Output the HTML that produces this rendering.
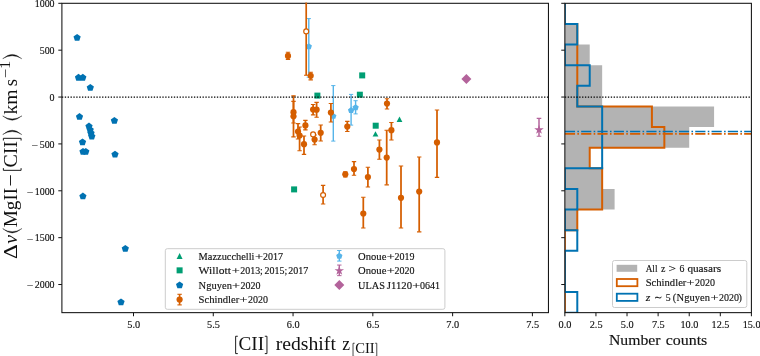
<!DOCTYPE html>
<html><head><meta charset="utf-8"><title>Velocity shifts</title>
<style>
html,body{margin:0;padding:0;background:#fff;}
body{width:760px;height:356px;overflow:hidden;font-family:"Liberation Serif",serif;}
svg{display:block;will-change:transform;}
svg text{font-family:"Liberation Serif",serif;fill:#111;stroke:#111;stroke-width:0.14px;}
svg .big text{stroke:none;}
</style></head>
<body>
<svg width="760" height="356" viewBox="0 0 760 356">
<rect x="0" y="0" width="760" height="356" fill="#ffffff"/>
<defs>
<clipPath id="c1"><rect x="61.90" y="2.7" width="486.55" height="309.95"/></clipPath>
<clipPath id="c2"><rect x="564.85" y="3.30" width="186.55" height="309.35"/></clipPath>
</defs>
<g clip-path="url(#c1)">
<polygon points="77.10,33.90 80.71,36.53 79.33,40.77 74.87,40.77 73.49,36.53" fill="#0072B2"/>
<polygon points="78.50,73.80 82.11,76.43 80.73,80.67 76.27,80.67 74.89,76.43" fill="#0072B2"/>
<polygon points="82.80,73.80 86.41,76.43 85.03,80.67 80.57,80.67 79.19,76.43" fill="#0072B2"/>
<polygon points="90.30,83.90 93.91,86.53 92.53,90.77 88.07,90.77 86.69,86.53" fill="#0072B2"/>
<polygon points="79.50,113.00 83.11,115.63 81.73,119.87 77.27,119.87 75.89,115.63" fill="#0072B2"/>
<polygon points="114.40,116.90 118.01,119.53 116.63,123.77 112.17,123.77 110.79,119.53" fill="#0072B2"/>
<polygon points="89.00,122.50 92.61,125.13 91.23,129.37 86.77,129.37 85.39,125.13" fill="#0072B2"/>
<polygon points="90.20,126.20 93.81,128.83 92.43,133.07 87.97,133.07 86.59,128.83" fill="#0072B2"/>
<polygon points="91.00,129.30 94.61,131.93 93.23,136.17 88.77,136.17 87.39,131.93" fill="#0072B2"/>
<polygon points="91.80,132.60 95.41,135.23 94.03,139.47 89.57,139.47 88.19,135.23" fill="#0072B2"/>
<polygon points="82.50,138.40 86.11,141.03 84.73,145.27 80.27,145.27 78.89,141.03" fill="#0072B2"/>
<polygon points="83.00,147.90 86.61,150.53 85.23,154.77 80.77,154.77 79.39,150.53" fill="#0072B2"/>
<polygon points="85.80,147.90 89.41,150.53 88.03,154.77 83.57,154.77 82.19,150.53" fill="#0072B2"/>
<polygon points="115.00,150.70 118.61,153.33 117.23,157.57 112.77,157.57 111.39,153.33" fill="#0072B2"/>
<polygon points="82.90,192.50 86.51,195.13 85.13,199.37 80.67,199.37 79.29,195.13" fill="#0072B2"/>
<polygon points="125.30,244.90 128.91,247.53 127.53,251.77 123.07,251.77 121.69,247.53" fill="#0072B2"/>
<polygon points="121.00,298.40 124.61,301.03 123.23,305.27 118.77,305.27 117.39,301.03" fill="#0072B2"/>
<rect x="359.20" y="72.40" width="6.00" height="6.00" fill="#009E73"/>
<rect x="356.85" y="91.70" width="6.00" height="6.00" fill="#009E73"/>
<rect x="314.40" y="92.60" width="6.00" height="6.00" fill="#009E73"/>
<rect x="372.70" y="122.70" width="6.00" height="6.00" fill="#009E73"/>
<rect x="291.10" y="186.40" width="6.00" height="6.00" fill="#009E73"/>
<polygon points="375.50,131.20 372.60,136.60 378.40,136.60" fill="#009E73"/>
<polygon points="399.50,116.60 396.60,122.00 402.40,122.00" fill="#009E73"/>
<line x1="308.80" y1="18.60" x2="308.80" y2="77.20" stroke="#56B4E9" stroke-width="1.40"/><line x1="306.70" y1="18.60" x2="310.90" y2="18.60" stroke="#56B4E9" stroke-width="1.00"/><line x1="306.70" y1="77.20" x2="310.90" y2="77.20" stroke="#56B4E9" stroke-width="1.00"/>
<polygon points="308.80,43.20 311.94,45.48 310.74,49.17 306.86,49.17 305.66,45.48" fill="#56B4E9"/>
<line x1="333.30" y1="85.60" x2="333.30" y2="141.10" stroke="#56B4E9" stroke-width="1.40"/><line x1="331.20" y1="85.60" x2="335.40" y2="85.60" stroke="#56B4E9" stroke-width="1.00"/><line x1="331.20" y1="141.10" x2="335.40" y2="141.10" stroke="#56B4E9" stroke-width="1.00"/>
<polygon points="333.30,112.90 336.44,115.18 335.24,118.87 331.36,118.87 330.16,115.18" fill="#56B4E9"/>
<line x1="351.10" y1="94.40" x2="351.10" y2="125.10" stroke="#56B4E9" stroke-width="1.40"/><line x1="349.00" y1="94.40" x2="353.20" y2="94.40" stroke="#56B4E9" stroke-width="1.00"/><line x1="349.00" y1="125.10" x2="353.20" y2="125.10" stroke="#56B4E9" stroke-width="1.00"/>
<polygon points="351.10,107.10 354.24,109.38 353.04,113.07 349.16,113.07 347.96,109.38" fill="#56B4E9"/>
<line x1="355.60" y1="100.70" x2="355.60" y2="113.90" stroke="#56B4E9" stroke-width="1.40"/><line x1="353.50" y1="100.70" x2="357.70" y2="100.70" stroke="#56B4E9" stroke-width="1.00"/><line x1="353.50" y1="113.90" x2="357.70" y2="113.90" stroke="#56B4E9" stroke-width="1.00"/>
<polygon points="355.60,104.20 358.74,106.48 357.54,110.17 353.66,110.17 352.46,106.48" fill="#56B4E9"/>
<line x1="288.00" y1="52.20" x2="288.00" y2="59.50" stroke="#D55E00" stroke-width="1.75"/><line x1="285.80" y1="52.20" x2="290.20" y2="52.20" stroke="#D55E00" stroke-width="1.15"/><line x1="285.80" y1="59.50" x2="290.20" y2="59.50" stroke="#D55E00" stroke-width="1.15"/>
<line x1="310.70" y1="72.20" x2="310.70" y2="79.80" stroke="#D55E00" stroke-width="1.75"/><line x1="308.50" y1="72.20" x2="312.90" y2="72.20" stroke="#D55E00" stroke-width="1.15"/><line x1="308.50" y1="79.80" x2="312.90" y2="79.80" stroke="#D55E00" stroke-width="1.15"/>
<line x1="293.50" y1="101.40" x2="293.50" y2="123.00" stroke="#D55E00" stroke-width="1.75"/><line x1="291.30" y1="101.40" x2="295.70" y2="101.40" stroke="#D55E00" stroke-width="1.15"/><line x1="291.30" y1="123.00" x2="295.70" y2="123.00" stroke="#D55E00" stroke-width="1.15"/>
<line x1="293.50" y1="95.80" x2="293.50" y2="136.90" stroke="#D55E00" stroke-width="1.75"/><line x1="291.30" y1="95.80" x2="295.70" y2="95.80" stroke="#D55E00" stroke-width="1.15"/><line x1="291.30" y1="136.90" x2="295.70" y2="136.90" stroke="#D55E00" stroke-width="1.15"/>
<line x1="298.00" y1="123.60" x2="298.00" y2="139.00" stroke="#D55E00" stroke-width="1.75"/><line x1="295.80" y1="123.60" x2="300.20" y2="123.60" stroke="#D55E00" stroke-width="1.15"/><line x1="295.80" y1="139.00" x2="300.20" y2="139.00" stroke="#D55E00" stroke-width="1.15"/>
<line x1="299.60" y1="127.00" x2="299.60" y2="150.70" stroke="#D55E00" stroke-width="1.75"/><line x1="297.40" y1="127.00" x2="301.80" y2="127.00" stroke="#D55E00" stroke-width="1.15"/><line x1="297.40" y1="150.70" x2="301.80" y2="150.70" stroke="#D55E00" stroke-width="1.15"/>
<line x1="305.40" y1="120.40" x2="305.40" y2="129.90" stroke="#D55E00" stroke-width="1.75"/><line x1="303.20" y1="120.40" x2="307.60" y2="120.40" stroke="#D55E00" stroke-width="1.15"/><line x1="303.20" y1="129.90" x2="307.60" y2="129.90" stroke="#D55E00" stroke-width="1.15"/>
<line x1="304.00" y1="136.00" x2="304.00" y2="154.40" stroke="#D55E00" stroke-width="1.75"/><line x1="301.80" y1="136.00" x2="306.20" y2="136.00" stroke="#D55E00" stroke-width="1.15"/><line x1="301.80" y1="154.40" x2="306.20" y2="154.40" stroke="#D55E00" stroke-width="1.15"/>
<line x1="313.10" y1="104.50" x2="313.10" y2="114.90" stroke="#D55E00" stroke-width="1.75"/><line x1="310.90" y1="104.50" x2="315.30" y2="104.50" stroke="#D55E00" stroke-width="1.15"/><line x1="310.90" y1="114.90" x2="315.30" y2="114.90" stroke="#D55E00" stroke-width="1.15"/>
<line x1="316.60" y1="102.40" x2="316.60" y2="117.20" stroke="#D55E00" stroke-width="1.75"/><line x1="314.40" y1="102.40" x2="318.80" y2="102.40" stroke="#D55E00" stroke-width="1.15"/><line x1="314.40" y1="117.20" x2="318.80" y2="117.20" stroke="#D55E00" stroke-width="1.15"/>
<line x1="314.60" y1="135.00" x2="314.60" y2="144.70" stroke="#D55E00" stroke-width="1.75"/><line x1="312.40" y1="135.00" x2="316.80" y2="135.00" stroke="#D55E00" stroke-width="1.15"/><line x1="312.40" y1="144.70" x2="316.80" y2="144.70" stroke="#D55E00" stroke-width="1.15"/>
<line x1="320.70" y1="125.00" x2="320.70" y2="141.00" stroke="#D55E00" stroke-width="1.75"/><line x1="318.50" y1="125.00" x2="322.90" y2="125.00" stroke="#D55E00" stroke-width="1.15"/><line x1="318.50" y1="141.00" x2="322.90" y2="141.00" stroke="#D55E00" stroke-width="1.15"/>
<line x1="330.90" y1="103.50" x2="330.90" y2="122.00" stroke="#D55E00" stroke-width="1.75"/><line x1="328.70" y1="103.50" x2="333.10" y2="103.50" stroke="#D55E00" stroke-width="1.15"/><line x1="328.70" y1="122.00" x2="333.10" y2="122.00" stroke="#D55E00" stroke-width="1.15"/>
<line x1="347.30" y1="121.40" x2="347.30" y2="131.50" stroke="#D55E00" stroke-width="1.75"/><line x1="345.10" y1="121.40" x2="349.50" y2="121.40" stroke="#D55E00" stroke-width="1.15"/><line x1="345.10" y1="131.50" x2="349.50" y2="131.50" stroke="#D55E00" stroke-width="1.15"/>
<line x1="387.00" y1="98.70" x2="387.00" y2="109.00" stroke="#D55E00" stroke-width="1.75"/><line x1="384.80" y1="98.70" x2="389.20" y2="98.70" stroke="#D55E00" stroke-width="1.15"/><line x1="384.80" y1="109.00" x2="389.20" y2="109.00" stroke="#D55E00" stroke-width="1.15"/>
<line x1="391.40" y1="122.50" x2="391.40" y2="140.00" stroke="#D55E00" stroke-width="1.75"/><line x1="389.20" y1="122.50" x2="393.60" y2="122.50" stroke="#D55E00" stroke-width="1.15"/><line x1="389.20" y1="140.00" x2="393.60" y2="140.00" stroke="#D55E00" stroke-width="1.15"/>
<line x1="379.40" y1="140.00" x2="379.40" y2="159.20" stroke="#D55E00" stroke-width="1.75"/><line x1="377.20" y1="140.00" x2="381.60" y2="140.00" stroke="#D55E00" stroke-width="1.15"/><line x1="377.20" y1="159.20" x2="381.60" y2="159.20" stroke="#D55E00" stroke-width="1.15"/>
<line x1="386.70" y1="130.20" x2="386.70" y2="184.80" stroke="#D55E00" stroke-width="1.75"/><line x1="384.50" y1="130.20" x2="388.90" y2="130.20" stroke="#D55E00" stroke-width="1.15"/><line x1="384.50" y1="184.80" x2="388.90" y2="184.80" stroke="#D55E00" stroke-width="1.15"/>
<line x1="437.00" y1="110.00" x2="437.00" y2="177.40" stroke="#D55E00" stroke-width="1.75"/><line x1="434.80" y1="110.00" x2="439.20" y2="110.00" stroke="#D55E00" stroke-width="1.15"/><line x1="434.80" y1="177.40" x2="439.20" y2="177.40" stroke="#D55E00" stroke-width="1.15"/>
<line x1="345.30" y1="171.70" x2="345.30" y2="176.90" stroke="#D55E00" stroke-width="1.75"/><line x1="343.10" y1="171.70" x2="347.50" y2="171.70" stroke="#D55E00" stroke-width="1.15"/><line x1="343.10" y1="176.90" x2="347.50" y2="176.90" stroke="#D55E00" stroke-width="1.15"/>
<line x1="354.00" y1="161.60" x2="354.00" y2="175.20" stroke="#D55E00" stroke-width="1.75"/><line x1="351.80" y1="161.60" x2="356.20" y2="161.60" stroke="#D55E00" stroke-width="1.15"/><line x1="351.80" y1="175.20" x2="356.20" y2="175.20" stroke="#D55E00" stroke-width="1.15"/>
<line x1="367.90" y1="167.20" x2="367.90" y2="187.00" stroke="#D55E00" stroke-width="1.75"/><line x1="365.70" y1="167.20" x2="370.10" y2="167.20" stroke="#D55E00" stroke-width="1.15"/><line x1="365.70" y1="187.00" x2="370.10" y2="187.00" stroke="#D55E00" stroke-width="1.15"/>
<line x1="363.30" y1="197.20" x2="363.30" y2="228.00" stroke="#D55E00" stroke-width="1.75"/><line x1="361.10" y1="197.20" x2="365.50" y2="197.20" stroke="#D55E00" stroke-width="1.15"/><line x1="361.10" y1="228.00" x2="365.50" y2="228.00" stroke="#D55E00" stroke-width="1.15"/>
<line x1="401.00" y1="166.00" x2="401.00" y2="228.00" stroke="#D55E00" stroke-width="1.75"/><line x1="398.80" y1="166.00" x2="403.20" y2="166.00" stroke="#D55E00" stroke-width="1.15"/><line x1="398.80" y1="228.00" x2="403.20" y2="228.00" stroke="#D55E00" stroke-width="1.15"/>
<line x1="419.20" y1="157.00" x2="419.20" y2="231.80" stroke="#D55E00" stroke-width="1.75"/><line x1="417.00" y1="157.00" x2="421.40" y2="157.00" stroke="#D55E00" stroke-width="1.15"/><line x1="417.00" y1="231.80" x2="421.40" y2="231.80" stroke="#D55E00" stroke-width="1.15"/>
<circle cx="288.00" cy="55.90" r="3.10" fill="#D55E00"/>
<circle cx="310.70" cy="75.80" r="3.10" fill="#D55E00"/>
<circle cx="293.50" cy="112.20" r="3.10" fill="#D55E00"/>
<circle cx="293.50" cy="116.30" r="3.10" fill="#D55E00"/>
<circle cx="298.00" cy="131.50" r="3.10" fill="#D55E00"/>
<circle cx="299.60" cy="135.50" r="3.10" fill="#D55E00"/>
<circle cx="305.40" cy="125.40" r="3.10" fill="#D55E00"/>
<circle cx="304.00" cy="144.20" r="3.10" fill="#D55E00"/>
<circle cx="313.10" cy="109.60" r="3.10" fill="#D55E00"/>
<circle cx="316.60" cy="109.70" r="3.10" fill="#D55E00"/>
<circle cx="314.60" cy="139.60" r="3.10" fill="#D55E00"/>
<circle cx="320.70" cy="132.80" r="3.10" fill="#D55E00"/>
<circle cx="330.90" cy="112.50" r="3.10" fill="#D55E00"/>
<circle cx="347.30" cy="126.60" r="3.10" fill="#D55E00"/>
<circle cx="387.00" cy="103.60" r="3.10" fill="#D55E00"/>
<circle cx="391.40" cy="130.20" r="3.10" fill="#D55E00"/>
<circle cx="379.40" cy="149.60" r="3.10" fill="#D55E00"/>
<circle cx="386.70" cy="157.60" r="3.10" fill="#D55E00"/>
<circle cx="437.00" cy="142.40" r="3.10" fill="#D55E00"/>
<circle cx="345.30" cy="174.30" r="3.10" fill="#D55E00"/>
<circle cx="354.00" cy="169.00" r="3.10" fill="#D55E00"/>
<circle cx="367.90" cy="177.10" r="3.10" fill="#D55E00"/>
<circle cx="363.30" cy="213.50" r="3.10" fill="#D55E00"/>
<circle cx="401.00" cy="197.80" r="3.10" fill="#D55E00"/>
<circle cx="419.20" cy="191.60" r="3.10" fill="#D55E00"/>
<line x1="306.20" y1="-2.00" x2="306.20" y2="75.30" stroke="#D55E00" stroke-width="1.70"/><line x1="304.00" y1="75.30" x2="308.40" y2="75.30" stroke="#D55E00" stroke-width="1.10"/>
<circle cx="306.20" cy="31.40" r="2.45" fill="#fff" stroke="#D55E00" stroke-width="1.20"/>
<circle cx="313.10" cy="134.40" r="2.45" fill="#fff" stroke="#D55E00" stroke-width="1.20"/>
<line x1="323.10" y1="185.40" x2="323.10" y2="204.00" stroke="#D55E00" stroke-width="1.70"/><line x1="320.90" y1="185.40" x2="325.30" y2="185.40" stroke="#D55E00" stroke-width="1.10"/><line x1="320.90" y1="204.00" x2="325.30" y2="204.00" stroke="#D55E00" stroke-width="1.10"/>
<circle cx="323.10" cy="195.00" r="2.45" fill="#fff" stroke="#D55E00" stroke-width="1.20"/>
<line x1="539.00" y1="118.40" x2="539.00" y2="136.20" stroke="#B3639B" stroke-width="1.50"/><line x1="536.70" y1="118.40" x2="541.30" y2="118.40" stroke="#B3639B" stroke-width="1.10"/><line x1="536.70" y1="136.20" x2="541.30" y2="136.20" stroke="#B3639B" stroke-width="1.10"/>
<polygon points="539.00,124.80 540.12,128.25 543.76,128.25 540.82,130.39 541.94,133.85 539.00,131.71 536.06,133.85 537.18,130.39 534.24,128.25 537.88,128.25" fill="#B3639B"/>
<polygon points="466.40,74.00 471.40,79.00 466.40,84.00 461.40,79.00" fill="#B3639B"/>
<line x1="61.90" y1="97.05" x2="548.45" y2="97.05" stroke="#000" stroke-width="1.2" stroke-dasharray="1.35,1.52"/>
</g>
<g clip-path="url(#c2)">
<path d="M564.85 3.31 L564.85 3.31 L564.85 23.93 L577.29 23.93 L577.29 44.56 L589.72 44.56 L589.72 65.18 L602.16 65.18 L602.16 85.80 L602.16 85.80 L602.16 106.42 L714.09 106.42 L714.09 127.05 L689.22 127.05 L689.22 147.67 L589.72 147.67 L589.72 168.29 L602.16 168.29 L602.16 188.92 L614.60 188.92 L614.60 209.54 L577.29 209.54 L577.29 230.16 L564.85 230.16 L564.85 250.78 L564.85 250.78 L564.85 271.41 L564.85 271.41 L564.85 292.03 L564.85 292.03 L564.85 312.65 L564.85 312.65 Z" fill="#b3b3b3" stroke="none"/>
<path d="M564.85 3.31 L564.85 3.31 L564.85 23.93 L577.29 23.93 L577.29 44.56 L577.29 44.56 L577.29 65.18 L577.29 65.18 L577.29 85.80 L577.29 85.80 L577.29 106.42 L651.91 106.42 L651.91 127.05 L664.34 127.05 L664.34 147.67 L589.72 147.67 L589.72 168.29 L602.16 168.29 L602.16 188.92 L602.16 188.92 L602.16 209.54 L577.29 209.54 L577.29 230.16 L564.85 230.16 L564.85 250.78 L564.85 250.78 L564.85 271.41 L564.85 271.41 L564.85 292.03 L564.85 292.03 L564.85 312.65 L564.85 312.65" fill="none" stroke="#D55E00" stroke-width="2.0" stroke-linejoin="miter"/>
<path d="M564.85 3.31 L564.85 3.31 L564.85 23.93 L577.29 23.93 L577.29 44.56 L564.85 44.56 L564.85 65.18 L589.72 65.18 L589.72 85.80 L577.29 85.80 L577.29 106.42 L602.16 106.42 L602.16 127.05 L602.16 127.05 L602.16 147.67 L602.16 147.67 L602.16 168.29 L564.85 168.29 L564.85 188.92 L577.29 188.92 L577.29 209.54 L564.85 209.54 L564.85 230.16 L577.29 230.16 L577.29 250.78 L564.85 250.78 L564.85 271.41 L564.85 271.41 L564.85 292.03 L577.29 292.03 L577.29 312.65 L564.85 312.65" fill="none" stroke="#0072B2" stroke-width="2.0" stroke-linejoin="miter"/>
<line x1="564.85" y1="97.05" x2="751.40" y2="97.05" stroke="#000" stroke-width="1.2" stroke-dasharray="1.35,1.52"/>
<line x1="564.85" y1="133.80" x2="751.40" y2="133.80" stroke="#D55E00" stroke-width="1.65" stroke-dasharray="10.2,2.3,1.6,2.2"/>
<line x1="564.85" y1="131.45" x2="751.40" y2="131.45" stroke="#0072B2" stroke-width="1.65" stroke-dasharray="10.2,2.3,1.6,2.2"/>
</g>
<line x1="58.30" y1="3.31" x2="61.90" y2="3.31" stroke="#111" stroke-width="1"/>
<line x1="561.25" y1="3.31" x2="564.85" y2="3.31" stroke="#111" stroke-width="1"/>
<line x1="58.30" y1="50.18" x2="61.90" y2="50.18" stroke="#111" stroke-width="1"/>
<line x1="561.25" y1="50.18" x2="564.85" y2="50.18" stroke="#111" stroke-width="1"/>
<line x1="58.30" y1="97.05" x2="61.90" y2="97.05" stroke="#111" stroke-width="1"/>
<line x1="561.25" y1="97.05" x2="564.85" y2="97.05" stroke="#111" stroke-width="1"/>
<line x1="58.30" y1="143.92" x2="61.90" y2="143.92" stroke="#111" stroke-width="1"/>
<line x1="561.25" y1="143.92" x2="564.85" y2="143.92" stroke="#111" stroke-width="1"/>
<line x1="58.30" y1="190.79" x2="61.90" y2="190.79" stroke="#111" stroke-width="1"/>
<line x1="561.25" y1="190.79" x2="564.85" y2="190.79" stroke="#111" stroke-width="1"/>
<line x1="58.30" y1="237.66" x2="61.90" y2="237.66" stroke="#111" stroke-width="1"/>
<line x1="561.25" y1="237.66" x2="564.85" y2="237.66" stroke="#111" stroke-width="1"/>
<line x1="58.30" y1="284.53" x2="61.90" y2="284.53" stroke="#111" stroke-width="1"/>
<line x1="561.25" y1="284.53" x2="564.85" y2="284.53" stroke="#111" stroke-width="1"/>
<line x1="133.50" y1="312.65" x2="133.50" y2="316.25" stroke="#111" stroke-width="1"/>
<line x1="213.28" y1="312.65" x2="213.28" y2="316.25" stroke="#111" stroke-width="1"/>
<line x1="293.06" y1="312.65" x2="293.06" y2="316.25" stroke="#111" stroke-width="1"/>
<line x1="372.84" y1="312.65" x2="372.84" y2="316.25" stroke="#111" stroke-width="1"/>
<line x1="452.62" y1="312.65" x2="452.62" y2="316.25" stroke="#111" stroke-width="1"/>
<line x1="532.40" y1="312.65" x2="532.40" y2="316.25" stroke="#111" stroke-width="1"/>
<line x1="564.85" y1="312.65" x2="564.85" y2="316.25" stroke="#111" stroke-width="1"/>
<line x1="595.94" y1="312.65" x2="595.94" y2="316.25" stroke="#111" stroke-width="1"/>
<line x1="627.03" y1="312.65" x2="627.03" y2="316.25" stroke="#111" stroke-width="1"/>
<line x1="658.12" y1="312.65" x2="658.12" y2="316.25" stroke="#111" stroke-width="1"/>
<line x1="689.22" y1="312.65" x2="689.22" y2="316.25" stroke="#111" stroke-width="1"/>
<line x1="720.31" y1="312.65" x2="720.31" y2="316.25" stroke="#111" stroke-width="1"/>
<line x1="751.40" y1="312.65" x2="751.40" y2="316.25" stroke="#111" stroke-width="1"/>
<rect x="61.90" y="3.30" width="486.55" height="309.35" fill="none" stroke="#111" stroke-width="1.05"/>
<rect x="564.85" y="3.30" width="186.55" height="309.35" fill="none" stroke="#111" stroke-width="1.05"/>
<line x1="306.2" y1="2.75" x2="306.2" y2="4.2" stroke="#D55E00" stroke-width="1.75"/>
<rect x="165.3" y="248.7" width="279.6" height="60.6" rx="2" ry="2" fill="#fff" fill-opacity="0.8" stroke="#ccc" stroke-width="1"/>
<polygon points="179.60,253.10 176.60,258.90 182.60,258.90" fill="#009E73"/>
<rect x="176.60" y="267.35" width="6.00" height="6.00" fill="#009E73"/>
<polygon points="179.60,281.40 183.21,284.03 181.83,288.27 177.37,288.27 175.99,284.03" fill="#0072B2"/>
<line x1="179.60" y1="294.30" x2="179.60" y2="304.90" stroke="#D55E00" stroke-width="1.60"/><line x1="177.40" y1="294.30" x2="181.80" y2="294.30" stroke="#D55E00" stroke-width="1.10"/><line x1="177.40" y1="304.90" x2="181.80" y2="304.90" stroke="#D55E00" stroke-width="1.10"/>
<circle cx="179.60" cy="299.60" r="3.10" fill="#D55E00"/>
<line x1="339.30" y1="250.50" x2="339.30" y2="261.10" stroke="#56B4E9" stroke-width="1.40"/><line x1="337.10" y1="250.50" x2="341.50" y2="250.50" stroke="#56B4E9" stroke-width="1.00"/><line x1="337.10" y1="261.10" x2="341.50" y2="261.10" stroke="#56B4E9" stroke-width="1.00"/>
<polygon points="339.30,252.70 342.44,254.98 341.24,258.67 337.36,258.67 336.16,254.98" fill="#56B4E9"/>
<line x1="339.30" y1="265.05" x2="339.30" y2="275.65" stroke="#B3639B" stroke-width="1.40"/><line x1="337.10" y1="265.05" x2="341.50" y2="265.05" stroke="#B3639B" stroke-width="1.00"/><line x1="337.10" y1="275.65" x2="341.50" y2="275.65" stroke="#B3639B" stroke-width="1.00"/>
<polygon points="339.30,265.75 340.42,269.20 344.06,269.20 341.12,271.34 342.24,274.80 339.30,272.66 336.36,274.80 337.48,271.34 334.54,269.20 338.18,269.20" fill="#B3639B"/>
<polygon points="339.30,279.90 344.30,284.90 339.30,289.90 334.30,284.90" fill="#B3639B"/>
<rect x="612.5" y="260.5" width="134.3" height="47.0" rx="2" ry="2" fill="#fff" fill-opacity="0.8" stroke="#ccc" stroke-width="1"/>
<rect x="616.6" y="264.80" width="20.6" height="7.0" fill="#b3b3b3"/>
<rect x="616.8" y="279.00" width="20.6" height="7.2" fill="none" stroke="#D55E00" stroke-width="1.8"/>
<rect x="616.8" y="293.70" width="20.6" height="7.2" fill="none" stroke="#0072B2" stroke-width="1.8"/>
<text x="54.60" y="7.06" font-size="10.60" text-anchor="end" textLength="19.9" lengthAdjust="spacingAndGlyphs">1000</text>
<text x="54.60" y="53.93" font-size="10.60" text-anchor="end" textLength="14.9" lengthAdjust="spacingAndGlyphs">500</text>
<text x="54.60" y="100.80" font-size="10.60" text-anchor="end" textLength="5.0" lengthAdjust="spacingAndGlyphs">0</text>
<text x="54.60" y="147.67" font-size="10.60" text-anchor="end" textLength="14.9" lengthAdjust="spacingAndGlyphs">500</text>
<text x="38.49" y="148.87" font-size="10.60" text-anchor="end" textLength="6.6" lengthAdjust="spacingAndGlyphs">−</text>
<text x="54.60" y="194.54" font-size="10.60" text-anchor="end" textLength="19.9" lengthAdjust="spacingAndGlyphs">1000</text>
<text x="33.52" y="195.74" font-size="10.60" text-anchor="end" textLength="6.6" lengthAdjust="spacingAndGlyphs">−</text>
<text x="54.60" y="241.41" font-size="10.60" text-anchor="end" textLength="19.9" lengthAdjust="spacingAndGlyphs">1500</text>
<text x="33.52" y="242.61" font-size="10.60" text-anchor="end" textLength="6.6" lengthAdjust="spacingAndGlyphs">−</text>
<text x="54.60" y="288.28" font-size="10.60" text-anchor="end" textLength="19.9" lengthAdjust="spacingAndGlyphs">2000</text>
<text x="33.52" y="289.48" font-size="10.60" text-anchor="end" textLength="6.6" lengthAdjust="spacingAndGlyphs">−</text>
<text x="133.70" y="327.80" font-size="10.60" text-anchor="middle" textLength="12.9" lengthAdjust="spacingAndGlyphs">5.0</text>
<text x="213.48" y="327.80" font-size="10.60" text-anchor="middle" textLength="12.9" lengthAdjust="spacingAndGlyphs">5.5</text>
<text x="293.26" y="327.80" font-size="10.60" text-anchor="middle" textLength="12.9" lengthAdjust="spacingAndGlyphs">6.0</text>
<text x="373.04" y="327.80" font-size="10.60" text-anchor="middle" textLength="12.9" lengthAdjust="spacingAndGlyphs">6.5</text>
<text x="452.82" y="327.80" font-size="10.60" text-anchor="middle" textLength="12.9" lengthAdjust="spacingAndGlyphs">7.0</text>
<text x="532.60" y="327.80" font-size="10.60" text-anchor="middle" textLength="12.9" lengthAdjust="spacingAndGlyphs">7.5</text>
<text x="565.05" y="327.80" font-size="10.60" text-anchor="middle" textLength="12.9" lengthAdjust="spacingAndGlyphs">0.0</text>
<text x="596.14" y="327.80" font-size="10.60" text-anchor="middle" textLength="12.9" lengthAdjust="spacingAndGlyphs">2.5</text>
<text x="627.23" y="327.80" font-size="10.60" text-anchor="middle" textLength="12.9" lengthAdjust="spacingAndGlyphs">5.0</text>
<text x="658.33" y="327.80" font-size="10.60" text-anchor="middle" textLength="12.9" lengthAdjust="spacingAndGlyphs">7.5</text>
<text x="689.42" y="327.80" font-size="10.60" text-anchor="middle" textLength="17.9" lengthAdjust="spacingAndGlyphs">10.0</text>
<text x="720.51" y="327.80" font-size="10.60" text-anchor="middle" textLength="17.9" lengthAdjust="spacingAndGlyphs">12.5</text>
<text x="751.60" y="327.80" font-size="10.60" text-anchor="middle" textLength="17.9" lengthAdjust="spacingAndGlyphs">15.0</text>
<text x="198.60" y="259.60" font-size="10.50" text-anchor="start" textLength="55.9" lengthAdjust="spacingAndGlyphs">Mazzucchelli</text>
<text x="255.00" y="259.60" font-size="10.50" text-anchor="start" textLength="8.0" lengthAdjust="spacingAndGlyphs">+</text>
<text x="262.90" y="259.60" font-size="10.50" text-anchor="start" textLength="20.0" lengthAdjust="spacingAndGlyphs">2017</text>
<text x="198.60" y="274.20" font-size="10.50" text-anchor="start" textLength="32.3" lengthAdjust="spacingAndGlyphs">Willott</text>
<text x="231.80" y="274.20" font-size="10.50" text-anchor="start" textLength="8.0" lengthAdjust="spacingAndGlyphs">+</text>
<text x="240.20" y="274.20" font-size="10.50" text-anchor="start" textLength="22.7" lengthAdjust="spacingAndGlyphs">2013;</text>
<text x="264.50" y="274.20" font-size="10.50" text-anchor="start" textLength="22.7" lengthAdjust="spacingAndGlyphs">2015;</text>
<text x="288.30" y="274.20" font-size="10.50" text-anchor="start" textLength="20.0" lengthAdjust="spacingAndGlyphs">2017</text>
<text x="198.60" y="288.80" font-size="10.50" text-anchor="start" textLength="33.3" lengthAdjust="spacingAndGlyphs">Nguyen</text>
<text x="232.00" y="288.80" font-size="10.50" text-anchor="start" textLength="8.0" lengthAdjust="spacingAndGlyphs">+</text>
<text x="240.40" y="288.80" font-size="10.50" text-anchor="start" textLength="20.0" lengthAdjust="spacingAndGlyphs">2020</text>
<text x="198.60" y="303.30" font-size="10.50" text-anchor="start" textLength="40.7" lengthAdjust="spacingAndGlyphs">Schindler</text>
<text x="239.50" y="303.30" font-size="10.50" text-anchor="start" textLength="8.0" lengthAdjust="spacingAndGlyphs">+</text>
<text x="247.90" y="303.30" font-size="10.50" text-anchor="start" textLength="20.0" lengthAdjust="spacingAndGlyphs">2020</text>
<text x="358.10" y="259.60" font-size="10.50" text-anchor="start" textLength="28.3" lengthAdjust="spacingAndGlyphs">Onoue</text>
<text x="386.70" y="259.60" font-size="10.50" text-anchor="start" textLength="8.0" lengthAdjust="spacingAndGlyphs">+</text>
<text x="394.60" y="259.60" font-size="10.50" text-anchor="start" textLength="20.0" lengthAdjust="spacingAndGlyphs">2019</text>
<text x="358.10" y="274.20" font-size="10.50" text-anchor="start" textLength="28.3" lengthAdjust="spacingAndGlyphs">Onoue</text>
<text x="386.70" y="274.20" font-size="10.50" text-anchor="start" textLength="8.0" lengthAdjust="spacingAndGlyphs">+</text>
<text x="394.60" y="274.20" font-size="10.50" text-anchor="start" textLength="20.0" lengthAdjust="spacingAndGlyphs">2020</text>
<text x="358.10" y="288.80" font-size="10.50" text-anchor="start" textLength="26.8" lengthAdjust="spacingAndGlyphs">ULAS</text>
<text x="386.80" y="288.80" font-size="10.50" text-anchor="start" textLength="25.2" lengthAdjust="spacingAndGlyphs">J1120</text>
<text x="412.20" y="288.80" font-size="10.50" text-anchor="start" textLength="8.0" lengthAdjust="spacingAndGlyphs">+</text>
<text x="420.10" y="288.80" font-size="10.50" text-anchor="start" textLength="20.0" lengthAdjust="spacingAndGlyphs">0641</text>
<text x="645.70" y="271.60" font-size="10.50" text-anchor="start" textLength="11.8" lengthAdjust="spacingAndGlyphs">All</text>
<text x="661.00" y="271.60" font-size="10.50" text-anchor="start" textLength="4.4" lengthAdjust="spacingAndGlyphs">z</text>
<text x="668.50" y="271.60" font-size="10.50" text-anchor="start" textLength="7.4" lengthAdjust="spacingAndGlyphs">&gt;</text>
<text x="679.60" y="271.60" font-size="10.50" text-anchor="start" textLength="4.9" lengthAdjust="spacingAndGlyphs">6</text>
<text x="687.40" y="271.60" font-size="10.50" text-anchor="start" textLength="33.7" lengthAdjust="spacingAndGlyphs">quasars</text>
<text x="645.70" y="286.10" font-size="10.50" text-anchor="start" textLength="40.7" lengthAdjust="spacingAndGlyphs">Schindler</text>
<text x="686.60" y="286.10" font-size="10.50" text-anchor="start" textLength="8.0" lengthAdjust="spacingAndGlyphs">+</text>
<text x="695.00" y="286.10" font-size="10.50" text-anchor="start" textLength="20.0" lengthAdjust="spacingAndGlyphs">2020</text>
<text x="645.70" y="300.80" font-size="10.50" text-anchor="start" textLength="4.6" lengthAdjust="spacingAndGlyphs" font-style="italic">z</text>
<text x="653.90" y="300.80" font-size="10.50" text-anchor="start" textLength="8.2" lengthAdjust="spacingAndGlyphs">∼</text>
<text x="665.70" y="300.80" font-size="10.50" text-anchor="start" textLength="4.9" lengthAdjust="spacingAndGlyphs">5</text>
<text x="672.70" y="300.80" font-size="10.50" text-anchor="start" textLength="3.4" lengthAdjust="spacingAndGlyphs">(</text>
<text x="676.60" y="300.80" font-size="10.50" text-anchor="start" textLength="33.3" lengthAdjust="spacingAndGlyphs">Nguyen</text>
<text x="710.50" y="300.80" font-size="10.50" text-anchor="start" textLength="8.0" lengthAdjust="spacingAndGlyphs">+</text>
<text x="718.90" y="300.80" font-size="10.50" text-anchor="start" textLength="20.0" lengthAdjust="spacingAndGlyphs">2020</text>
<text x="738.60" y="300.80" font-size="10.50" text-anchor="start" textLength="3.4" lengthAdjust="spacingAndGlyphs">)</text>
<g class="big" transform="translate(233.0,349.5)"><path d="M4.79 -13.25 H2.64 V4.10 H4.79" fill="none" stroke="#111" stroke-width="0.95" stroke-linejoin="miter"/><text x="5.49" y="0.00" font-size="18.90" textLength="25.6" lengthAdjust="spacingAndGlyphs">CII</text><path d="M31.81 -13.25 H33.96 V4.10 H31.81" fill="none" stroke="#111" stroke-width="0.95" stroke-linejoin="miter"/><text x="42.70" y="0.00" font-size="18.90" textLength="60.2" lengthAdjust="spacingAndGlyphs">redshift</text><text x="109.30" y="0.00" font-size="18.90" textLength="7.8" lengthAdjust="spacingAndGlyphs">z</text><g transform="translate(118.0,3.8)"><path d="M3.64 -10.05 H2.02 V3.10 H3.64" fill="none" stroke="#111" stroke-width="0.75" stroke-linejoin="miter"/><text x="4.16" y="0" font-size="14.6" textLength="19.5" lengthAdjust="spacingAndGlyphs">CII</text><path d="M24.16 -10.05 H25.78 V3.10 H24.16" fill="none" stroke="#111" stroke-width="0.75" stroke-linejoin="miter"/></g></g>
<text x="608.90" y="345.10" font-size="15.20" text-anchor="start" textLength="51.6" lengthAdjust="spacingAndGlyphs">Number</text>
<text x="665.70" y="345.10" font-size="15.20" text-anchor="start" textLength="41.6" lengthAdjust="spacingAndGlyphs">counts</text>
<g class="big" transform="translate(16.9,259.5) rotate(-90)"><text x="0.40" y="0.00" font-size="19.00" textLength="14.8" lengthAdjust="spacingAndGlyphs">Δ</text><text x="15.80" y="0.00" font-size="19.00" textLength="8.8" lengthAdjust="spacingAndGlyphs" font-style="italic">v</text><path d="M30.91 -14.02 Q22.13 -4.67 30.91 4.67 L30.54 4.67 Q25.21 -4.67 30.54 -14.02 Z" fill="#111" stroke="#111" stroke-width="0.35"/><text x="32.20" y="0.00" font-size="19.00" textLength="39.5" lengthAdjust="spacingAndGlyphs">MgII</text><text x="73.00" y="0.00" font-size="19.00" textLength="12.4" lengthAdjust="spacingAndGlyphs">−</text><path d="M91.37 -13.54 H89.16 V4.19 H91.37" fill="none" stroke="#111" stroke-width="0.97" stroke-linejoin="miter"/><text x="91.90" y="0.00" font-size="19.00" textLength="26.6" lengthAdjust="spacingAndGlyphs">CII</text><path d="M118.97 -13.54 H121.18 V4.19 H118.97" fill="none" stroke="#111" stroke-width="0.97" stroke-linejoin="miter"/><path d="M124.88 -14.02 Q133.67 -4.67 124.88 4.67 L125.25 4.67 Q130.58 -4.67 125.25 -14.02 Z" fill="#111" stroke="#111" stroke-width="0.35"/><path d="M143.63 -14.02 Q134.85 -4.67 143.63 4.67 L143.26 4.67 Q137.93 -4.67 143.26 -14.02 Z" fill="#111" stroke="#111" stroke-width="0.35"/><text x="144.90" y="0.00" font-size="19.00" textLength="25.0" lengthAdjust="spacingAndGlyphs">km</text><text x="173.30" y="0.00" font-size="19.00" textLength="7.3" lengthAdjust="spacingAndGlyphs">s</text><text x="181.30" y="-6.90" font-size="14.20" textLength="17.4" lengthAdjust="spacingAndGlyphs">−1</text><path d="M200.71 -14.02 Q209.50 -4.67 200.71 4.67 L201.08 4.67 Q206.41 -4.67 201.08 -14.02 Z" fill="#111" stroke="#111" stroke-width="0.35"/></g>
</svg>
</body></html>
